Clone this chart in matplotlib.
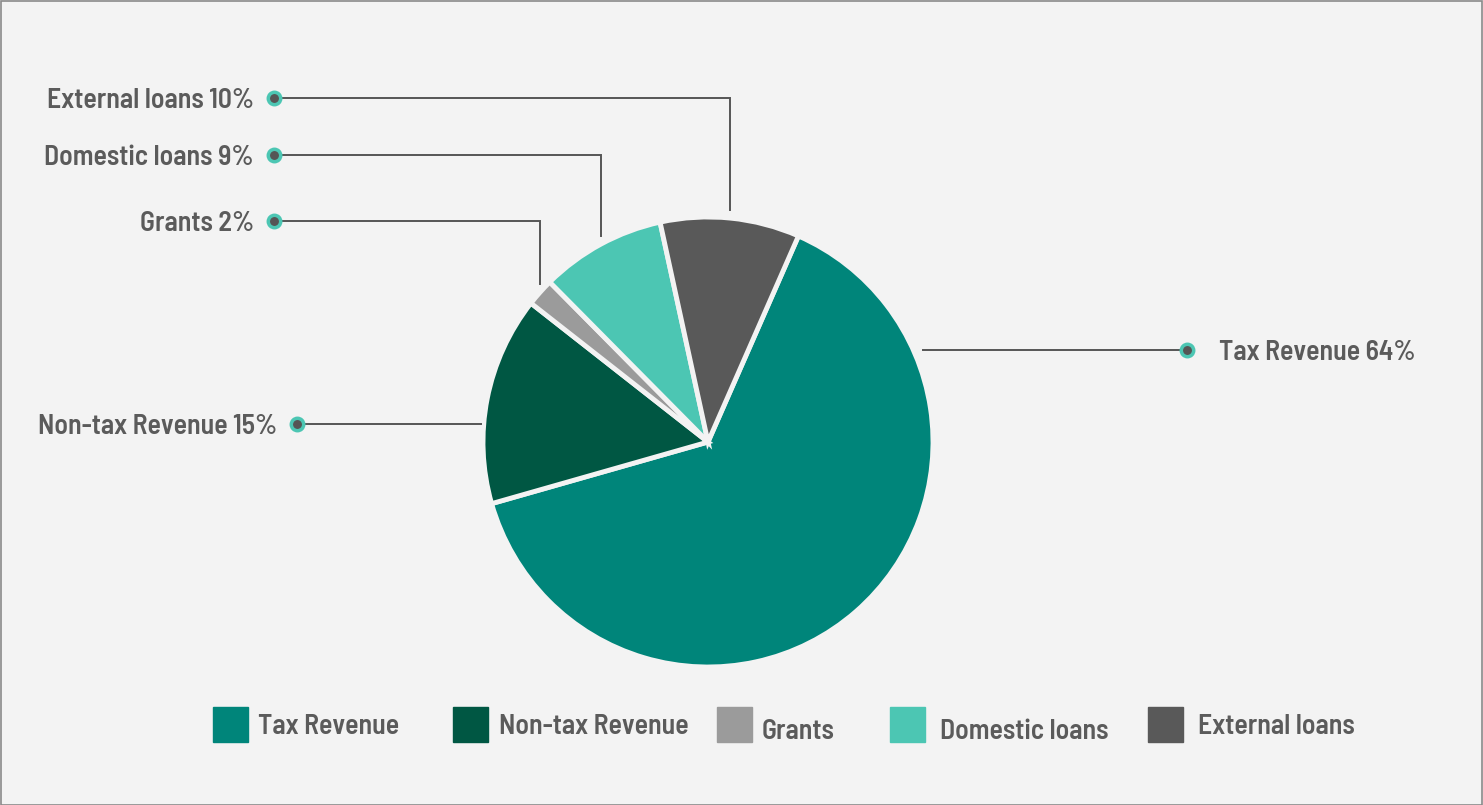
import matplotlib
matplotlib.use("Agg")
import matplotlib.pyplot as plt
from matplotlib.patches import Rectangle
import numpy as np

# Revenue shares (%)
CATEGORIES = ["Tax Revenue", "Non-tax Revenue", "Grants", "Domestic loans", "External loans"]
SHARES = [64, 15, 2, 9, 10]
COLORS = ["#00857a", "#005743", "#9b9b9b", "#4cc6b3", "#595959"]

BG = "#f3f3f3"
TEXT = "#5b5b5b"
LINE = "#555555"
FONT = ["Barlow Semi Condensed SemiBold", "Barlow Semi Condensed", "DejaVu Sans"]

W, H = 1483, 805
CX, CY, R = 708, H - 442, 225
START = 66.3

# Label layout: (side, kind, label y, dot x)
LABELS = {
    "Tax Revenue": ("right", "flat", H - 350, 1187),
    "Non-tax Revenue": ("left", "flat", H - 424, 297),
    "Grants": ("left", "elbow", H - 221, 274),
    "Domestic loans": ("left", "elbow", H - 155, 274),
    "External loans": ("left", "elbow", H - 98, 274),
}

# Legend layout: (square x, text x, text baseline y)
LEGEND_POS = [(213, 258, 734), (453, 499, 734), (717, 762, 739),
              (890, 940, 739), (1148, 1198, 734)]


def main():
    fig = plt.figure(figsize=(W / 100, H / 100), dpi=100, facecolor=BG)
    ax = fig.add_axes([0, 0, 1, 1])
    ax.set_facecolor(BG)

    wedges, _ = ax.pie(SHARES, colors=COLORS, startangle=START, counterclock=False,
                       center=(CX, CY), radius=R,
                       wedgeprops=dict(edgecolor=BG, linewidth=3.5))
    ax.set_xlim(0, W)
    ax.set_ylim(0, H)
    ax.set_aspect("equal")
    ax.axis("off")

    tkw = dict(fontsize=20, fontweight="semibold", color=TEXT, family=FONT)
    for name, share, w in zip(CATEGORIES, SHARES, wedges):
        side, kind, ly, dx = LABELS[name]
        if kind == "elbow":
            mid = np.deg2rad((w.theta1 + w.theta2) / 2)
            px = CX + R * np.cos(mid)
            py = CY + R * np.sin(mid) + 8
            ax.plot([px, px, dx], [py, ly, ly], color=LINE, lw=1.4, zorder=1,
                    solid_joinstyle="miter")
        else:
            off = np.sqrt(R ** 2 - (ly - CY) ** 2)
            px = CX + off + 10 if side == "right" else CX - off - 3
            ax.plot([px, dx], [ly, ly], color=LINE, lw=1.4, zorder=1)
        ax.scatter([dx], [ly], s=80, color=LINE, edgecolor="#4cc6b3",
                   linewidth=2.5, zorder=3)
        label = f"{name} {share}%"
        if side == "right":
            ax.text(dx + 32, ly - 10, label, ha="left", va="baseline", **tkw)
        else:
            ax.text(dx - 20, ly - 10, label, ha="right", va="baseline", **tkw)

    # Legend drawn as a row of swatches
    for (sx, tx, ty), name, c in zip(LEGEND_POS, CATEGORIES, COLORS):
        ax.add_patch(Rectangle((sx, H - 742), 35, 35, color=c, zorder=2))
        ax.text(tx, H - ty, name, ha="left", va="baseline", **tkw)

    # Thin frame around the figure
    ax.add_patch(Rectangle((0.5, 0.5), W - 1.5, H - 1.5, fill=False,
                           edgecolor="#8a8a8a", lw=1.2, zorder=5))

    fig.savefig("out.png", dpi=100, facecolor=BG)
    plt.close(fig)


if __name__ == "__main__":
    main()
